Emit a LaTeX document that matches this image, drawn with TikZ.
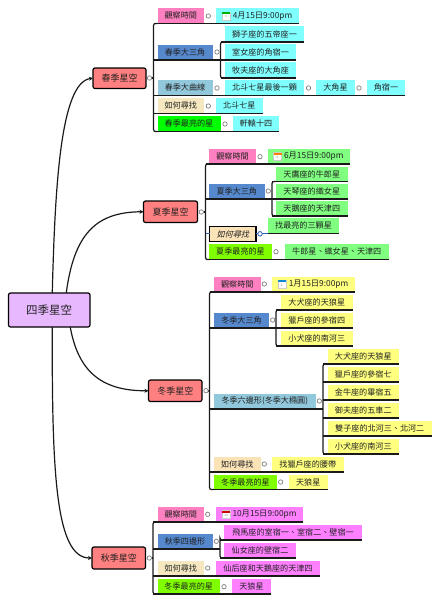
\documentclass[tikz,border=0pt]{standalone}
\usepackage{fontspec}
\setmainfont{Noto Sans CJK TC}
\newfontfamily\slantcjk[FakeSlant=0.25]{Noto Sans CJK TC}
\usetikzlibrary{arrows.meta}
\definecolor{cSp}{HTML}{80FFFF}
\definecolor{cSu}{HTML}{80FF80}
\definecolor{cWi}{HTML}{FFFF80}
\definecolor{cAu}{HTML}{FF80FF}
\definecolor{cPink}{HTML}{FF80C0}
\definecolor{cBlue}{HTML}{5588CC}
\definecolor{cLb}{HTML}{92C8DC}
\definecolor{cBeige}{HTML}{F5E8C0}
\definecolor{cWheat}{HTML}{FBE3B8}
\definecolor{cLime}{HTML}{7FFF00}
\definecolor{cRed}{HTML}{FF8080}
\definecolor{cRoot}{HTML}{E8B8FF}
\definecolor{cLink}{HTML}{1A1A1A}
\definecolor{cTxt}{HTML}{222222}
\definecolor{cSel}{HTML}{3366BB}
\tikzset{
  box/.style={inner sep=0pt,outer sep=0pt,font=\fontsize{8.1}{9}\selectfont,text=cTxt},
  datebox/.style={font=\fontsize{8.3}{10}\selectfont},
  topic/.style={box,draw=black,line width=1.2pt,rounded corners=2pt,fill=cRed,font=\fontsize{9}{10}\selectfont},
  rootbox/.style={topic,fill=cRoot,font=\fontsize{11.5}{13}\selectfont},
  link/.style={draw=cLink,line width=1.2pt},
  tree/.style={link,rounded corners=2pt},
  curve/.style={draw=cLink,line width=1.2pt},
  curvearrow/.style={curve,-{Stealth[length=4pt,width=4pt]}},
  ring/.style={circle,draw=gray,fill=white,line width=0.7pt,minimum size=4.4pt,inner sep=0pt,outer sep=0pt},
  marked/.style={draw=black,line width=1.2pt,font=\fontsize{8.1}{9}\slantcjk\selectfont},
}
\newcommand{\bx}[7][]{%
  \pgfmathsetmacro{\bw}{#5-#3}\pgfmathsetmacro{\bh}{#6-#4}%
  \pgfmathsetmacro{\bcx}{(#3+#5)/2}\pgfmathsetmacro{\bcy}{(#4+#6)/2}%
  \node[box,fill=#7,minimum width=\bw pt,minimum height=\bh pt,#1] (#2) at (\bcx,\bcy) {\bxtext};}
\newcommand{\tbx}[8][]{\def\bxtext{#8}\bx[#1]{#2}{#3}{#4}{#5}{#6}{#7}}
\newcommand{\rr}[3]{\node[ring] (#1) at (#2,#3) {};}
\newcommand{\rowl}[3]{\draw[link] (#1 |- #2.south) -- (#3.south east);}
\newcommand{\rowto}[3]{\draw[link] (#1 |- #2.south) -- (#3 |- #2.south);}
\newcommand{\calicon}[3]{%
  \fill[white,draw=gray!40,line width=0.2pt] ([xshift=6pt,yshift=-4pt]#1.west) rectangle ++(8pt,8pt);
  \fill[#2] ([xshift=6pt,yshift=4pt]#1.west) rectangle ++(8pt,-2.2pt);
  \node[inner sep=0pt,font=\fontsize{3}{3}\selectfont,text=gray] (#1i) at ([xshift=10pt,yshift=-1pt]#1.west) {#3};}
\begin{document}
\begin{tikzpicture}[x=1pt,y=-1pt]
\useasboundingbox (0,0) rectangle (441,603);
% root and seasons
\tbx[rootbox]{root}{8.5}{293}{90}{327}{cRoot}{四季星空}
\tbx[topic]{sp}{93}{68}{146}{88.5}{cRed}{春季星空}
\tbx[topic]{su}{143.5}{201}{197.5}{222.5}{cRed}{夏季星空}
\tbx[topic]{wi}{148.5}{380}{202}{401.5}{cRed}{冬季星空}
\tbx[topic]{au}{92}{547}{145.5}{569}{cRed}{秋季星空}
\draw[curvearrow] ([xshift=3pt]root.north) .. controls (55,190) and (60,82) .. (sp.west);
\draw[curvearrow] ([xshift=17pt]root.north) .. controls (74,235) and (95,212) .. (su.west);
\draw[curvearrow] ([xshift=21pt]root.south) .. controls (78,370) and (100,391) .. (wi.west);
\draw[curvearrow] ([xshift=3pt]root.south) .. controls (52,470) and (55,558) .. (au.west);
%
% spring
\coordinate (spt) at (153.5,78);
\coordinate (spb) at (220.5,52);
\tbx{sp1}{157.5}{8}{204}{23.5}{cPink}{觀察時間}
\tbx[datebox]{sp1d}{216}{8}{299}{23.5}{cSp}{\hspace*{10pt}4月15日9:00pm}
\tbx{sp2}{157.5}{44.5}{212.5}{60}{cBlue}{春季大三角}
\tbx{sp2a}{225}{26}{304}{42}{cSp}{獅子座的五帝座一}
\tbx{sp2b}{225}{44}{296}{60}{cSp}{室女座的角宿一}
\tbx{sp2c}{225}{62}{296}{78}{cSp}{牧夫座的大角座}
\tbx{sp3}{157.5}{80}{212.5}{95.5}{cLb}{春季大曲線}
\tbx{sp3a}{225}{80}{304}{95.5}{cSp}{北斗七星最後一顆}
\tbx{sp3b}{316}{80}{355}{95.5}{cSp}{大角星}
\tbx{sp3c}{367}{80}{405}{95.5}{cSp}{角宿一}
\tbx{sp4}{157.5}{98}{204}{113.5}{cBeige}{如何尋找}
\tbx{sp4a}{216}{98}{262.5}{113.5}{cSp}{北斗七星}
\tbx{sp5}{157.5}{116}{220.5}{131.5}{green}{春季最亮的星}
\tbx{sp5a}{233}{116}{279}{131.5}{cSp}{軒轅十四}
\calicon{sp1d}{green!70!black}{4}
\draw[tree] (sp1.south west) -| (spt) |- (sp5.south west);
\draw[tree] (sp2a.south west) -| (spb) |- (sp2c.south west);
\rowl{spt}{sp1}{sp1d}
\rowl{spt}{sp2}{sp2b}
\rowl{spt}{sp3}{sp3c}
\rowl{spt}{sp4}{sp4a}
\rowl{spt}{sp5}{sp5a}
\rowl{spb}{sp2a}{sp2a}
\rowl{spb}{sp2c}{sp2c}
\rr{spr}{149.5}{78} \draw[link] (spr) -- (spt);
\rr{spr1}{208.3}{16} \rr{spr2}{217}{52} \rr{spr3}{217}{88} \rr{spr3a}{308.5}{88} \rr{spr3b}{359}{88} \rr{spr4}{208.3}{106} \rr{spr5}{225}{124}
%
% summer
\coordinate (sut) at (205.5,212);
\coordinate (sub) at (272,191);
\tbx{su1}{209}{149}{256}{164}{cPink}{觀察時間}
\tbx[datebox]{su1d}{267.5}{149}{350}{164}{cSu}{\hspace*{10pt}6月15日9:00pm}
\tbx{su2}{209}{183.5}{264.5}{199}{cBlue}{夏季大三角}
\tbx{su2a}{276}{166.5}{347.5}{181.5}{cSu}{天鷹座的牛郎星}
\tbx{su2b}{276}{184}{347.5}{199}{cSu}{天琴座的織女星}
\tbx{su2c}{276}{201}{347.5}{216}{cSu}{天鵝座的天津四}
\tbx{su3a}{268}{218}{339}{233.5}{cSu}{找最亮的三顆星}
\tbx{su4}{209}{244}{272}{259.5}{cLime}{夏季最亮的星}
\tbx{su4a}{284.5}{244}{389}{259.5}{cSu}{牛郎星、織女星、天津四}
\calicon{su1d}{orange}{6}
\draw[tree] (su1.south west) -| (sut) |- (su4.south west);
\draw[tree] (su2a.south west) -| (sub) |- (su2c.south west);
\rowl{sut}{su1}{su1d}
\rowl{sut}{su2}{su2b}
\rowl{sut}{su4}{su4a}
\rowl{sub}{su2a}{su2a}
\rowl{sub}{su2c}{su2c}
\tbx[marked]{su3}{209.5}{226.5}{256}{241.5}{cWheat}{如何尋找}
\draw[draw=cSel,line width=1.2pt] (sut |- su3a.south) -- (su3.west |- su3a.south);
\rr{sur3}{260}{233.8}
\draw[draw=cSel,line width=1.2pt] (su3.east |- su3a.south) -- (su3a.south west);
\draw[link] (su3a.south west) -- (su3a.south east);
\node[ring,draw=cSel] at (sur3) {};
\rr{sur}{201.3}{212} \draw[link] (sur) -- (sut);
\rr{sur1}{260}{156.7} \rr{sur2}{268.3}{191} \rr{sur4}{276}{251.7}
%
% winter
\coordinate (wit) at (209.5,391);
\coordinate (wib) at (276,320);
\coordinate (wic) at (323,401);
\tbx{wi1}{214}{276.5}{260.5}{292}{cPink}{觀察時間}
\tbx[datebox]{wi1d}{272}{276.5}{355}{292}{cWi}{\hspace*{10pt}1月15日9:00pm}
\tbx{wi2}{214}{312.5}{269}{328}{cBlue}{冬季大三角}
\tbx{wi2a}{281}{294.5}{352.5}{310}{cWi}{大犬座的天狼星}
\tbx{wi2b}{281}{312.5}{352.5}{328}{cWi}{獵戶座的參宿四}
\tbx{wi2c}{281}{330.5}{352.5}{346}{cWi}{小犬座的南河三}
\tbx{wi3}{214}{393.5}{315.5}{409}{cLb}{冬季六邊形(冬季大橢圓)}
\tbx{wi3a}{327.5}{348.5}{399}{364}{cWi}{大犬座的天狼星}
\tbx{wi3b}{327.5}{366.5}{399}{382}{cWi}{獵戶座的參宿七}
\tbx{wi3c}{327.5}{384.5}{399}{400}{cWi}{金牛座的畢宿五}
\tbx{wi3d}{327.5}{403}{399}{418}{cWi}{御夫座的五車二}
\tbx{wi3e}{327.5}{421}{432}{436}{cWi}{雙子座的北河三、北河二}
\tbx{wi3f}{327.5}{439}{399}{454}{cWi}{小犬座的南河三}
\tbx{wi4}{214}{456.5}{260.5}{472}{cWheat}{如何尋找}
\tbx{wi4a}{272}{456.5}{343.5}{472}{cWi}{找獵戶座的腰帶}
\tbx{wi5}{214}{474.5}{277}{489.5}{cLime}{冬季最亮的星}
\tbx{wi5a}{289}{474.5}{327.5}{489.5}{cWi}{天狼星}
\calicon{wi1d}{cyan!70!blue}{1}
\draw[tree] (wi1.south west) -| (wit) |- (wi5.south west);
\draw[tree] (wi2a.south west) -| (wib) |- (wi2c.south west);
\draw[tree] (wi3a.south west) -| (wic) |- (wi3f.south west);
\rowl{wit}{wi1}{wi1d}
\rowl{wit}{wi2}{wi2b}
\rowto{wit}{wi3}{wic}
\rowl{wit}{wi4}{wi4a}
\rowl{wit}{wi5}{wi5a}
\rowl{wib}{wi2a}{wi2a}
\rowl{wib}{wi2c}{wi2c}
\rowl{wic}{wi3a}{wi3a}
\rowl{wic}{wi3b}{wi3b}
\rowl{wic}{wi3c}{wi3c}
\rowl{wic}{wi3d}{wi3d}
\rowl{wic}{wi3e}{wi3e}
\rowl{wic}{wi3f}{wi3f}
\rr{wir}{206}{390.7} \draw[link] (wir) -- (wit);
\rr{wir1}{264.3}{284} \rr{wir2}{272.7}{320} \rr{wir3}{319.3}{401} \rr{wir4}{264.3}{464} \rr{wir5}{280.7}{482}
%
% autumn
\coordinate (aut) at (153,558);
\coordinate (aub) at (220,540);
\tbx{au1}{157.5}{507}{204}{522}{cPink}{觀察時間}
\tbx[datebox]{au1d}{216}{507}{303}{522}{cAu}{\hspace*{10pt}10月15日9:00pm}
\tbx{au2}{157.5}{534}{212.5}{549}{cBlue}{秋季四邊形}
\tbx{au2a}{224}{525}{362}{540}{cAu}{飛馬座的室宿一、室宿二、壁宿一}
\tbx{au2b}{224}{543}{296}{558}{cAu}{仙女座的壁宿二}
\tbx{au3}{157.5}{561}{204}{576}{cBeige}{如何尋找}
\tbx{au3a}{216}{561}{320}{576}{cAu}{仙后座和天鵝座的天津四}
\tbx{au4}{157.5}{579}{220}{594}{cLime}{冬季最亮的星}
\tbx{au4a}{232}{579}{271}{594}{cAu}{天狼星}
\calicon{au1d}{red!80!black}{10}
\draw[tree] (au1.south west) -| (aut) |- (au4.south west);
\draw[tree] (au2a.south west) -| (aub) |- (au2b.south west);
\rowl{aut}{au1}{au1d}
\rowto{aut}{au2}{aub}
\rowl{aut}{au3}{au3a}
\rowl{aut}{au4}{au4a}
\rowl{aub}{au2a}{au2a}
\rowl{aub}{au2b}{au2b}
\rr{aur}{149.3}{558} \draw[link] (aur) -- (aut);
\rr{aur1}{207.7}{514.3} \rr{aur2}{216.3}{541.3} \rr{aur3}{207.7}{568} \rr{aur4}{224}{586.7}
\end{tikzpicture}
\end{document}
